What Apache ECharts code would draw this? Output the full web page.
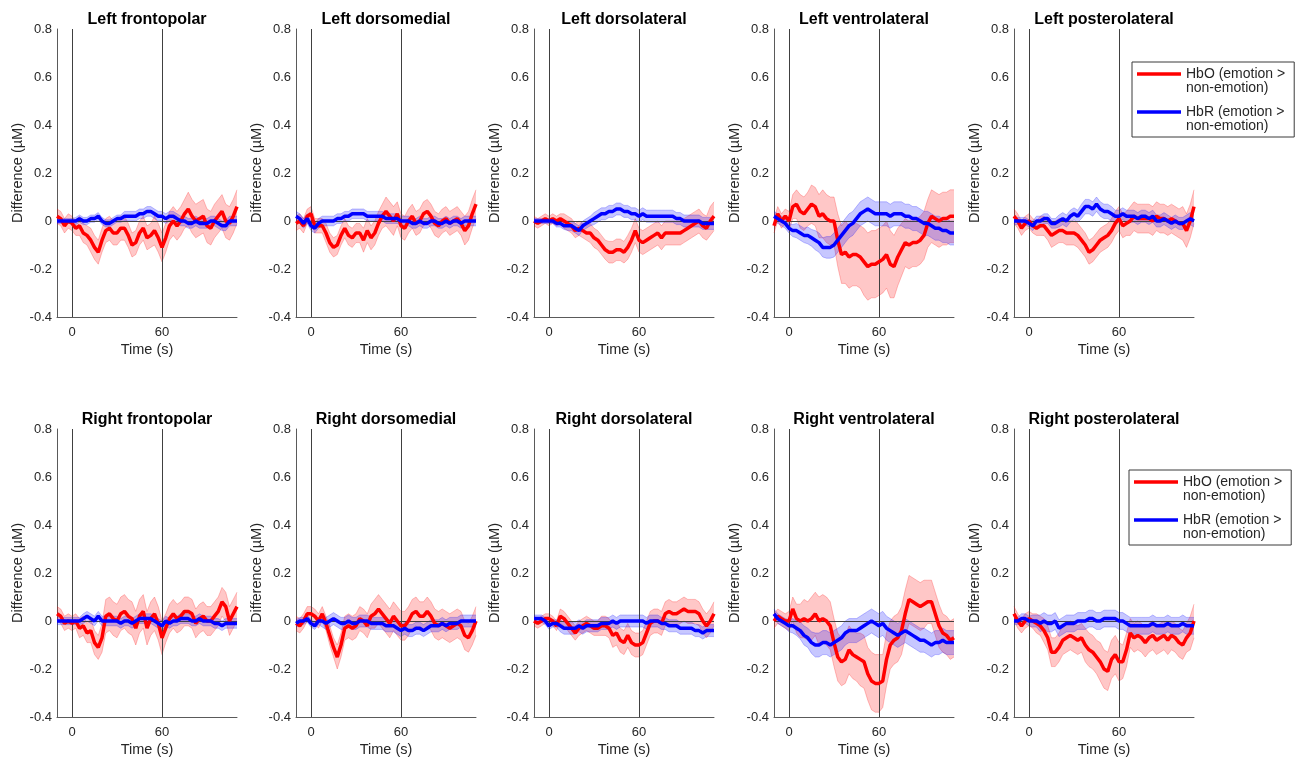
<!DOCTYPE html>
<html>
<head>
<meta charset="utf-8">
<title>HbO / HbR difference by region</title>
<script src="https://cdn.jsdelivr.net/npm/echarts@6/dist/echarts.min.js"></script>
<style>
	html, body { margin: 0; padding: 0; background: #fff; }
	#chart { width: 1298px; height: 758px; }
</style>
</head>
<body>
<div id="chart"></div>
<script>
'use strict'

/*-- sample times (s) --*/
var time = [
	-10, -7.5, -5, -2.5, 0, 2.5, 5,
	7.5, 10, 12.5, 15, 17.5, 20, 22.5,
	25, 27.5, 30, 32.5, 35, 37.5, 40,
	42.5, 45, 47.5, 50, 52.5, 55, 57.5,
	60, 62.5, 65, 67.5, 70, 72.5, 75,
	77.5, 80, 82.5, 85, 87.5, 90, 92.5,
	95, 97.5, 100, 102.5, 105, 107.5, 110
];
var xTickValues = [0, 60];
var markerTimes = [0, 60];
var titles = [
	'Left frontopolar', 'Left dorsomedial', 'Left dorsolateral', 'Left ventrolateral', 'Left posterolateral',
	'Right frontopolar', 'Right dorsomedial', 'Right dorsolateral', 'Right ventrolateral', 'Right posterolateral'
];
var hboName = 'HbO (emotion > non-emotion)';
var hbrName = 'HbR (emotion > non-emotion)';

/*-- Left frontopolar --*/
var lfp_hbo = [
	0.02, 0.01, -0.02, 0.00, -0.01, -0.03, -0.02,
	-0.05, -0.06, -0.08, -0.11, -0.13, -0.08, -0.04,
	-0.03, -0.05, -0.05, -0.03, -0.03, -0.06, -0.10,
	-0.09, -0.05, -0.03, -0.07, -0.06, -0.04, -0.07,
	-0.11, -0.07, -0.02, 0.00, -0.02, 0.00, 0.03,
	0.05, 0.02, 0.00, 0.01, 0.02, -0.02, -0.03,
	0.00, 0.02, 0.04, 0.00, -0.01, 0.02, 0.06
];
var lfp_hbo_se = [
	0.03, 0.03, 0.03, 0.03, 0.03, 0.03, 0.04,
	0.04, 0.04, 0.05, 0.05, 0.05, 0.05, 0.05,
	0.05, 0.05, 0.05, 0.05, 0.05, 0.05, 0.05,
	0.05, 0.05, 0.05, 0.05, 0.05, 0.06, 0.06,
	0.06, 0.06, 0.06, 0.06, 0.06, 0.06, 0.06,
	0.07, 0.07, 0.07, 0.07, 0.07, 0.07, 0.07,
	0.07, 0.07, 0.07, 0.07, 0.07, 0.07, 0.07
];
var lfp_hbr = [
	0.00, 0.00, 0.00, 0.00, 0.00, 0.00, 0.01,
	0.00, 0.00, 0.01, 0.01, 0.02, 0.00, -0.01,
	-0.01, 0.00, 0.01, 0.01, 0.02, 0.02, 0.02,
	0.02, 0.03, 0.03, 0.04, 0.04, 0.03, 0.02,
	0.02, 0.01, 0.02, 0.02, 0.01, 0.00, 0.00,
	-0.01, -0.01, 0.00, -0.01, -0.01, -0.01, 0.00,
	0.00, -0.01, -0.02, -0.02, 0.00, 0.00, 0.00
];
var lfp_hbr_se = [
	0.01, 0.01, 0.01, 0.01, 0.01, 0.015, 0.015,
	0.015, 0.015, 0.015, 0.015, 0.015, 0.015, 0.015,
	0.015, 0.015, 0.015, 0.015, 0.02, 0.02, 0.02,
	0.02, 0.02, 0.02, 0.02, 0.02, 0.02, 0.02,
	0.02, 0.02, 0.02, 0.02, 0.02, 0.02, 0.02,
	0.02, 0.02, 0.02, 0.02, 0.02, 0.02, 0.02,
	0.02, 0.02, 0.02, 0.02, 0.02, 0.02, 0.02
];

/*-- Left dorsomedial --*/
var ldm_hbo = [
	-0.01, 0.00, -0.02, 0.02, 0.03, -0.02, -0.02,
	-0.02, -0.05, -0.09, -0.11, -0.10, -0.06, -0.03,
	-0.06, -0.07, -0.05, -0.05, -0.08, -0.04, -0.07,
	-0.05, -0.01, 0.02, 0.04, 0.02, 0.00, 0.03,
	-0.02, -0.03, 0.00, 0.02, -0.01, 0.00, 0.03,
	0.04, 0.02, -0.01, -0.02, 0.00, 0.01, -0.01,
	0.00, 0.01, -0.01, -0.04, -0.02, 0.03, 0.07
];
var ldm_hbo_se = [
	0.03, 0.03, 0.03, 0.03, 0.03, 0.03, 0.03,
	0.03, 0.04, 0.04, 0.04, 0.04, 0.04, 0.04,
	0.04, 0.04, 0.04, 0.04, 0.05, 0.05, 0.05,
	0.05, 0.05, 0.05, 0.06, 0.06, 0.06, 0.05,
	0.05, 0.05, 0.05, 0.05, 0.05, 0.05, 0.05,
	0.05, 0.05, 0.05, 0.05, 0.05, 0.05, 0.05,
	0.05, 0.05, 0.05, 0.06, 0.06, 0.06, 0.06
];
var ldm_hbr = [
	0.02, 0.01, -0.01, 0.01, -0.02, -0.03, -0.01,
	0.00, 0.00, 0.00, 0.00, 0.01, 0.01, 0.02,
	0.02, 0.03, 0.03, 0.03, 0.03, 0.02, 0.02,
	0.02, 0.02, 0.02, 0.01, 0.01, 0.01, 0.01,
	0.00, 0.00, 0.00, -0.01, -0.01, 0.00, -0.01,
	-0.01, 0.00, 0.00, -0.01, -0.01, 0.00, -0.01,
	0.00, 0.00, -0.01, 0.00, 0.00, 0.00, 0.00
];
var ldm_hbr_se = [
	0.02, 0.02, 0.02, 0.02, 0.02, 0.02, 0.02,
	0.02, 0.02, 0.02, 0.02, 0.02, 0.02, 0.02,
	0.02, 0.02, 0.02, 0.02, 0.02, 0.02, 0.02,
	0.02, 0.02, 0.02, 0.02, 0.02, 0.02, 0.02,
	0.02, 0.02, 0.02, 0.02, 0.02, 0.02, 0.02,
	0.02, 0.02, 0.02, 0.02, 0.02, 0.02, 0.02,
	0.02, 0.02, 0.02, 0.02, 0.02, 0.02, 0.02
];

/*-- Left dorsolateral --*/
var ldl_hbo = [
	0.00, -0.01, 0.00, 0.01, 0.00, 0.01, 0.00,
	0.01, 0.00, -0.01, -0.02, -0.04, -0.03, -0.04,
	-0.05, -0.05, -0.07, -0.08, -0.10, -0.12, -0.13,
	-0.13, -0.12, -0.12, -0.13, -0.11, -0.08, -0.04,
	-0.08, -0.09, -0.08, -0.07, -0.06, -0.05, -0.07,
	-0.05, -0.05, -0.05, -0.05, -0.05, -0.04, -0.03,
	-0.02, -0.01, 0.00, -0.02, -0.03, 0.00, 0.02
];
var ldl_hbo_se = [
	0.02, 0.02, 0.02, 0.02, 0.02, 0.02, 0.02,
	0.02, 0.03, 0.03, 0.03, 0.03, 0.03, 0.03,
	0.03, 0.04, 0.04, 0.04, 0.04, 0.04, 0.045,
	0.045, 0.045, 0.045, 0.045, 0.05, 0.05, 0.05,
	0.05, 0.05, 0.05, 0.05, 0.05, 0.05, 0.05,
	0.05, 0.05, 0.05, 0.05, 0.05, 0.05, 0.05,
	0.05, 0.05, 0.05, 0.05, 0.05, 0.06, 0.06
];
var ldl_hbr = [
	0.00, 0.00, 0.00, 0.00, 0.00, 0.00, -0.01,
	-0.01, -0.02, -0.02, -0.02, -0.03, -0.04, -0.02,
	-0.01, 0.00, 0.01, 0.02, 0.03, 0.03, 0.04,
	0.04, 0.05, 0.05, 0.04, 0.04, 0.03, 0.03,
	0.02, 0.03, 0.02, 0.02, 0.02, 0.02, 0.02,
	0.02, 0.02, 0.02, 0.01, 0.01, 0.00, 0.00,
	0.00, 0.00, 0.00, -0.01, -0.01, -0.01, -0.01
];
var ldl_hbr_se = [
	0.01, 0.01, 0.01, 0.01, 0.01, 0.01, 0.015,
	0.015, 0.015, 0.02, 0.02, 0.02, 0.02, 0.02,
	0.02, 0.02, 0.025, 0.025, 0.025, 0.025, 0.025,
	0.025, 0.025, 0.025, 0.025, 0.025, 0.025, 0.025,
	0.025, 0.025, 0.025, 0.025, 0.025, 0.025, 0.025,
	0.025, 0.025, 0.025, 0.025, 0.025, 0.025, 0.025,
	0.025, 0.025, 0.025, 0.025, 0.025, 0.025, 0.025
];

/*-- Left ventrolateral --*/
var lvl_hbo = [
	-0.02, 0.03, 0.00, 0.02, 0.00, 0.06, 0.07,
	0.04, 0.03, 0.05, 0.07, 0.06, 0.02, 0.03,
	0.01, 0.00, 0.00, -0.08, -0.14, -0.13, -0.15,
	-0.14, -0.14, -0.15, -0.17, -0.19, -0.18, -0.18,
	-0.17, -0.16, -0.14, -0.18, -0.19, -0.15, -0.12,
	-0.09, -0.10, -0.09, -0.09, -0.08, -0.06, -0.01,
	0.02, 0.01, 0.00, 0.01, 0.01, 0.02, 0.02
];
var lvl_hbo_se = [
	0.03, 0.03, 0.03, 0.03, 0.04, 0.05, 0.06,
	0.07, 0.07, 0.07, 0.08, 0.08, 0.09, 0.10,
	0.10, 0.10, 0.10, 0.11, 0.12, 0.13, 0.13,
	0.13, 0.13, 0.13, 0.14, 0.14, 0.14, 0.14,
	0.14, 0.14, 0.14, 0.14, 0.13, 0.12, 0.11,
	0.10, 0.10, 0.10, 0.10, 0.10, 0.10, 0.10,
	0.11, 0.11, 0.11, 0.11, 0.11, 0.11, 0.11
];
var lvl_hbr = [
	0.02, 0.01, 0.00, -0.01, -0.03, -0.04, -0.04,
	-0.05, -0.06, -0.06, -0.07, -0.08, -0.09, -0.11,
	-0.11, -0.11, -0.10, -0.08, -0.06, -0.04, -0.02,
	-0.01, 0.01, 0.03, 0.04, 0.05, 0.04, 0.03,
	0.03, 0.03, 0.03, 0.02, 0.03, 0.03, 0.03,
	0.02, 0.02, 0.01, 0.01, 0.00, -0.01, -0.01,
	-0.02, -0.03, -0.03, -0.04, -0.04, -0.05, -0.05
];
var lvl_hbr_se = [
	0.02, 0.02, 0.02, 0.02, 0.02, 0.025, 0.03,
	0.03, 0.03, 0.035, 0.035, 0.04, 0.04, 0.04,
	0.045, 0.045, 0.05, 0.05, 0.05, 0.05, 0.05,
	0.05, 0.05, 0.05, 0.05, 0.05, 0.05, 0.05,
	0.05, 0.05, 0.05, 0.05, 0.05, 0.05, 0.05,
	0.05, 0.05, 0.05, 0.05, 0.05, 0.05, 0.05,
	0.05, 0.05, 0.05, 0.05, 0.05, 0.05, 0.05
];

/*-- Left posterolateral --*/
var lpl_hbo = [
	0.02, 0.00, -0.03, -0.01, 0.00, -0.02, -0.03,
	-0.02, -0.02, -0.04, -0.06, -0.05, -0.04, -0.04,
	-0.05, -0.05, -0.05, -0.06, -0.08, -0.10, -0.13,
	-0.12, -0.10, -0.08, -0.07, -0.06, -0.04, -0.01,
	0.01, -0.02, -0.01, 0.00, 0.02, 0.01, 0.01,
	0.01, 0.01, 0.00, 0.02, 0.01, 0.01, 0.00,
	0.01, 0.00, -0.01, -0.01, -0.04, 0.00, 0.06
];
var lpl_hbo_se = [
	0.03, 0.03, 0.03, 0.03, 0.03, 0.03, 0.03,
	0.04, 0.04, 0.04, 0.05, 0.05, 0.05, 0.05,
	0.05, 0.05, 0.05, 0.05, 0.05, 0.05, 0.05,
	0.05, 0.05, 0.05, 0.05, 0.05, 0.05, 0.05,
	0.05, 0.05, 0.05, 0.06, 0.06, 0.06, 0.06,
	0.06, 0.06, 0.06, 0.06, 0.06, 0.06, 0.06,
	0.06, 0.06, 0.06, 0.07, 0.07, 0.07, 0.07
];
var lpl_hbr = [
	0.00, 0.00, 0.00, 0.00, -0.01, -0.02, 0.00,
	0.00, 0.01, 0.01, -0.01, -0.01, 0.00, 0.01,
	0.00, 0.02, 0.03, 0.02, 0.04, 0.06, 0.06,
	0.05, 0.07, 0.05, 0.04, 0.04, 0.03, 0.02,
	0.02, 0.03, 0.02, 0.02, 0.02, 0.01, 0.02,
	0.02, 0.01, 0.02, 0.00, 0.00, 0.01, 0.00,
	-0.01, 0.00, -0.01, -0.01, 0.00, 0.01, 0.00
];
var lpl_hbr_se = [
	0.015, 0.015, 0.015, 0.015, 0.015, 0.02, 0.02,
	0.02, 0.02, 0.02, 0.02, 0.02, 0.025, 0.025,
	0.025, 0.025, 0.025, 0.025, 0.03, 0.03, 0.03,
	0.03, 0.03, 0.03, 0.03, 0.03, 0.03, 0.025,
	0.025, 0.025, 0.025, 0.025, 0.025, 0.025, 0.025,
	0.025, 0.025, 0.025, 0.025, 0.025, 0.025, 0.025,
	0.025, 0.025, 0.025, 0.025, 0.025, 0.025, 0.025
];

/*-- Right frontopolar --*/
var rfp_hbo = [
	0.03, 0.02, -0.01, 0.00, -0.01, 0.00, -0.03,
	-0.02, -0.05, -0.04, -0.09, -0.11, -0.07, 0.02,
	0.03, 0.01, 0.00, 0.03, 0.04, 0.02, 0.01,
	-0.03, 0.02, 0.04, -0.03, 0.01, 0.03, -0.01,
	-0.07, -0.03, 0.01, 0.03, 0.01, 0.02, 0.04,
	0.04, 0.03, -0.01, 0.01, 0.02, 0.00, 0.00,
	0.02, 0.04, 0.08, 0.06, 0.00, 0.03, 0.06
];
var rfp_hbo_se = [
	0.03, 0.03, 0.03, 0.03, 0.03, 0.03, 0.04,
	0.04, 0.04, 0.05, 0.05, 0.05, 0.06, 0.07,
	0.07, 0.07, 0.07, 0.07, 0.07, 0.07, 0.07,
	0.07, 0.07, 0.07, 0.07, 0.07, 0.07, 0.07,
	0.07, 0.06, 0.06, 0.06, 0.06, 0.06, 0.06,
	0.06, 0.06, 0.06, 0.06, 0.06, 0.06, 0.06,
	0.06, 0.06, 0.06, 0.06, 0.06, 0.06, 0.06
];
var rfp_hbr = [
	0.00, 0.00, 0.00, 0.00, 0.00, 0.00, 0.00,
	0.01, 0.02, 0.01, 0.00, 0.02, 0.00, 0.00,
	0.00, 0.00, 0.00, -0.01, 0.00, 0.00, -0.01,
	0.00, 0.01, 0.01, 0.01, 0.01, 0.00, -0.01,
	-0.02, 0.00, -0.01, 0.00, 0.00, 0.01, 0.01,
	0.01, 0.00, 0.00, 0.01, 0.00, 0.00, 0.00,
	-0.01, -0.01, -0.02, -0.01, -0.01, -0.01, -0.01
];
var rfp_hbr_se = [
	0.015, 0.015, 0.015, 0.015, 0.015, 0.015, 0.015,
	0.02, 0.02, 0.02, 0.02, 0.02, 0.02, 0.02,
	0.02, 0.02, 0.02, 0.02, 0.02, 0.02, 0.02,
	0.02, 0.02, 0.02, 0.02, 0.02, 0.02, 0.02,
	0.02, 0.02, 0.02, 0.02, 0.02, 0.02, 0.02,
	0.02, 0.02, 0.02, 0.02, 0.02, 0.02, 0.02,
	0.02, 0.02, 0.02, 0.02, 0.02, 0.02, 0.02
];

/*-- Right dorsomedial --*/
var rdm_hbo = [
	-0.01, -0.02, 0.00, 0.03, 0.03, 0.02, 0.00,
	0.03, -0.01, -0.06, -0.11, -0.15, -0.10, -0.03,
	-0.02, -0.03, -0.02, 0.01, 0.00, -0.02, 0.02,
	0.03, 0.05, 0.03, 0.01, -0.01, 0.02, 0.00,
	-0.02, -0.02, 0.00, 0.03, 0.04, 0.02, 0.02,
	0.04, 0.02, -0.01, -0.02, -0.01, -0.02, -0.03,
	-0.02, -0.01, -0.02, -0.06, -0.07, -0.04, 0.00
];
var rdm_hbo_se = [
	0.03, 0.03, 0.03, 0.03, 0.03, 0.03, 0.03,
	0.03, 0.03, 0.04, 0.04, 0.05, 0.05, 0.05,
	0.05, 0.05, 0.05, 0.05, 0.05, 0.05, 0.05,
	0.06, 0.06, 0.06, 0.06, 0.06, 0.06, 0.06,
	0.06, 0.06, 0.06, 0.06, 0.06, 0.06, 0.06,
	0.06, 0.06, 0.06, 0.06, 0.06, 0.06, 0.06,
	0.06, 0.06, 0.06, 0.06, 0.06, 0.06, 0.06
];
var rdm_hbr = [
	-0.01, 0.00, 0.00, 0.01, -0.01, -0.02, 0.00,
	0.00, -0.01, 0.00, 0.01, 0.00, -0.01, -0.01,
	0.00, -0.01, -0.01, 0.00, 0.00, 0.00, -0.01,
	-0.01, -0.01, -0.01, -0.02, -0.02, -0.02, -0.03,
	-0.04, -0.03, -0.04, -0.04, -0.03, -0.03, -0.04,
	-0.03, -0.02, -0.02, -0.02, -0.01, -0.02, -0.01,
	-0.01, -0.01, 0.00, 0.00, 0.00, 0.00, 0.00
];
var rdm_hbr_se = [
	0.015, 0.015, 0.015, 0.015, 0.015, 0.015, 0.015,
	0.025, 0.025, 0.025, 0.025, 0.025, 0.025, 0.025,
	0.025, 0.025, 0.025, 0.025, 0.025, 0.025, 0.025,
	0.025, 0.025, 0.025, 0.025, 0.025, 0.025, 0.025,
	0.025, 0.025, 0.025, 0.025, 0.025, 0.025, 0.025,
	0.025, 0.025, 0.025, 0.025, 0.025, 0.025, 0.025,
	0.025, 0.025, 0.025, 0.025, 0.025, 0.025, 0.025
];

/*-- Right dorsolateral --*/
var rdl_hbo = [
	0.00, -0.01, 0.00, 0.01, 0.01, 0.00, -0.02,
	0.02, 0.01, -0.01, -0.03, -0.05, -0.03, -0.02,
	-0.01, -0.02, -0.03, -0.03, -0.02, -0.02, -0.03,
	-0.06, -0.05, -0.08, -0.09, -0.06, -0.09, -0.10,
	-0.10, -0.09, -0.05, -0.01, 0.00, 0.00, -0.01,
	0.03, 0.04, 0.03, 0.03, 0.04, 0.05, 0.04,
	0.04, 0.04, 0.03, 0.00, -0.02, 0.00, 0.03
];
var rdl_hbo_se = [
	0.02, 0.02, 0.02, 0.02, 0.02, 0.02, 0.02,
	0.03, 0.03, 0.03, 0.03, 0.03, 0.03, 0.03,
	0.03, 0.03, 0.03, 0.03, 0.04, 0.04, 0.04,
	0.05, 0.05, 0.05, 0.05, 0.05, 0.05, 0.05,
	0.05, 0.05, 0.05, 0.05, 0.05, 0.05, 0.05,
	0.05, 0.05, 0.05, 0.05, 0.05, 0.05, 0.05,
	0.05, 0.05, 0.05, 0.05, 0.05, 0.05, 0.05
];
var rdl_hbr = [
	0.01, 0.01, 0.01, 0.00, -0.02, -0.01, -0.01,
	-0.02, -0.03, -0.03, -0.03, -0.03, -0.02, -0.03,
	-0.02, -0.02, -0.02, -0.02, -0.01, -0.01, -0.01,
	0.00, -0.01, 0.00, 0.00, 0.00, 0.00, 0.00,
	0.00, 0.00, -0.01, 0.00, 0.00, 0.00, -0.01,
	-0.01, -0.02, -0.02, -0.02, -0.03, -0.03, -0.03,
	-0.03, -0.04, -0.04, -0.05, -0.04, -0.04, -0.04
];
var rdl_hbr_se = [
	0.015, 0.015, 0.015, 0.015, 0.015, 0.015, 0.015,
	0.025, 0.025, 0.025, 0.025, 0.025, 0.025, 0.025,
	0.025, 0.025, 0.025, 0.025, 0.025, 0.025, 0.025,
	0.025, 0.025, 0.025, 0.025, 0.025, 0.025, 0.025,
	0.025, 0.025, 0.025, 0.025, 0.025, 0.025, 0.025,
	0.025, 0.025, 0.025, 0.025, 0.025, 0.025, 0.025,
	0.025, 0.025, 0.025, 0.025, 0.025, 0.025, 0.025
];

/*-- Right ventrolateral --*/
var rvl_hbo = [
	0.00, 0.02, 0.01, 0.00, 0.00, 0.05, 0.01,
	0.00, 0.01, 0.00, 0.01, 0.03, 0.00, 0.01,
	0.00, -0.02, -0.09, -0.15, -0.17, -0.16, -0.12,
	-0.14, -0.15, -0.16, -0.17, -0.22, -0.25, -0.26,
	-0.26, -0.25, -0.16, -0.10, -0.08, -0.07, -0.04,
	0.03, 0.09, 0.08, 0.07, 0.06, 0.07, 0.08,
	0.08, 0.03, -0.02, -0.05, -0.06, -0.08, -0.07
];
var rvl_hbo_se = [
	0.03, 0.03, 0.03, 0.03, 0.04, 0.05, 0.06,
	0.07, 0.08, 0.08, 0.09, 0.09, 0.10, 0.10,
	0.10, 0.10, 0.10, 0.10, 0.10, 0.10, 0.10,
	0.10, 0.10, 0.11, 0.11, 0.11, 0.12, 0.12,
	0.12, 0.11, 0.11, 0.10, 0.10, 0.10, 0.10,
	0.10, 0.10, 0.10, 0.10, 0.10, 0.10, 0.09,
	0.09, 0.09, 0.09, 0.08, 0.08, 0.08, 0.08
];
var rvl_hbr = [
	0.03, 0.01, 0.00, -0.01, -0.02, -0.02, -0.03,
	-0.04, -0.06, -0.07, -0.09, -0.10, -0.10, -0.09,
	-0.09, -0.10, -0.09, -0.08, -0.07, -0.05, -0.04,
	-0.04, -0.04, -0.03, -0.02, -0.01, 0.00, -0.01,
	-0.02, -0.01, -0.03, -0.04, -0.05, -0.06, -0.05,
	-0.04, -0.05, -0.06, -0.07, -0.08, -0.08, -0.09,
	-0.10, -0.09, -0.09, -0.08, -0.09, -0.09, -0.09
];
var rvl_hbr_se = [
	0.02, 0.02, 0.02, 0.02, 0.025, 0.03, 0.03,
	0.035, 0.04, 0.04, 0.045, 0.05, 0.05, 0.05,
	0.05, 0.05, 0.05, 0.05, 0.05, 0.05, 0.05,
	0.05, 0.05, 0.05, 0.05, 0.05, 0.05, 0.05,
	0.05, 0.05, 0.05, 0.05, 0.05, 0.05, 0.05,
	0.05, 0.05, 0.05, 0.05, 0.05, 0.05, 0.05,
	0.05, 0.05, 0.05, 0.05, 0.05, 0.05, 0.05
];

/*-- Right posterolateral --*/
var rpl_hbo = [
	0.03, 0.00, -0.02, 0.00, 0.01, 0.00, -0.01,
	-0.02, -0.04, -0.07, -0.13, -0.13, -0.11, -0.08,
	-0.07, -0.06, -0.07, -0.08, -0.07, -0.10, -0.12,
	-0.13, -0.15, -0.17, -0.20, -0.21, -0.16, -0.14,
	-0.17, -0.17, -0.12, -0.05, -0.07, -0.06, -0.07,
	-0.09, -0.07, -0.06, -0.08, -0.07, -0.06, -0.08,
	-0.06, -0.07, -0.09, -0.10, -0.07, -0.05, 0.00
];
var rpl_hbo_se = [
	0.03, 0.03, 0.03, 0.03, 0.03, 0.03, 0.04,
	0.04, 0.05, 0.05, 0.06, 0.06, 0.06, 0.06,
	0.06, 0.06, 0.06, 0.06, 0.06, 0.07, 0.07,
	0.07, 0.07, 0.08, 0.08, 0.08, 0.08, 0.08,
	0.08, 0.07, 0.07, 0.06, 0.06, 0.06, 0.06,
	0.06, 0.06, 0.06, 0.06, 0.06, 0.06, 0.06,
	0.06, 0.06, 0.06, 0.06, 0.06, 0.07, 0.07
];
var rpl_hbr = [
	0.00, 0.00, 0.01, 0.01, 0.00, 0.00, 0.00,
	-0.01, 0.00, -0.01, -0.01, 0.00, -0.03, -0.02,
	-0.01, -0.01, -0.01, 0.00, 0.00, 0.00, 0.01,
	0.01, 0.00, 0.00, 0.01, 0.01, 0.01, 0.01,
	0.00, 0.00, -0.01, -0.02, -0.02, -0.02, -0.02,
	-0.02, -0.02, -0.01, -0.02, -0.02, -0.02, -0.01,
	-0.02, -0.02, -0.02, -0.01, -0.02, -0.02, -0.02
];
var rpl_hbr_se = [
	0.015, 0.015, 0.02, 0.02, 0.02, 0.025, 0.025,
	0.035, 0.035, 0.035, 0.035, 0.035, 0.035, 0.035,
	0.035, 0.035, 0.035, 0.035, 0.035, 0.035, 0.035,
	0.035, 0.035, 0.035, 0.035, 0.035, 0.035, 0.035,
	0.035, 0.035, 0.035, 0.035, 0.035, 0.035, 0.035,
	0.035, 0.035, 0.035, 0.035, 0.035, 0.035, 0.035,
	0.035, 0.035, 0.035, 0.035, 0.035, 0.035, 0.035
];

var panels = [
	[lfp_hbo, lfp_hbo_se, lfp_hbr, lfp_hbr_se],
	[ldm_hbo, ldm_hbo_se, ldm_hbr, ldm_hbr_se],
	[ldl_hbo, ldl_hbo_se, ldl_hbr, ldl_hbr_se],
	[lvl_hbo, lvl_hbo_se, lvl_hbr, lvl_hbr_se],
	[lpl_hbo, lpl_hbo_se, lpl_hbr, lpl_hbr_se],
	[rfp_hbo, rfp_hbo_se, rfp_hbr, rfp_hbr_se],
	[rdm_hbo, rdm_hbo_se, rdm_hbr, rdm_hbr_se],
	[rdl_hbo, rdl_hbo_se, rdl_hbr, rdl_hbr_se],
	[rvl_hbo, rvl_hbo_se, rvl_hbr, rvl_hbr_se],
	[rpl_hbo, rpl_hbo_se, rpl_hbr, rpl_hbr_se]
];

/*-- layout --*/
var colLeft = [57, 296, 534, 774, 1014];
var rowTop = [29, 429];
var plotW = 180, plotH = 288;
var textColor = '#262626';
var axisColor = '#5a5a5a';
var font = '"Liberation Sans", Arial, Helvetica, sans-serif';

var grids = [], xAxes = [], yAxes = [], titleList = [], series = [];

// shaded band (mean +/- se) drawn as one polygon through the axis scales
function bandSeries(idx, mean, se, fill, edge, key) {
	var rows = time.map(function(t, i) { return [t, mean[i] - se[i], mean[i] + se[i]]; });
	return {
		name: key + ' band ' + idx,
		type: 'custom',
		xAxisIndex: idx,
		yAxisIndex: idx,
		silent: true,
		z: 2,
		data: rows,
		encode: { x: 0, y: [1, 2] },
		renderItem: function(params, api) {
			if (params.dataIndex !== 0) return;
			var upper = rows.map(function(r) { return api.coord([r[0], r[2]]); });
			var lower = rows.map(function(r) { return api.coord([r[0], r[1]]); }).reverse();
			return {
				type: 'group',
				children: [
					{ type: 'polygon', shape: { points: upper.concat(lower) }, style: { fill: fill } },
					{ type: 'polyline', shape: { points: upper }, style: { fill: null, stroke: edge, lineWidth: 0.8 } },
					{ type: 'polyline', shape: { points: lower }, style: { fill: null, stroke: edge, lineWidth: 0.8 } }
				]
			};
		}
	};
}

function meanSeries(idx, name, mean, color) {
	return {
		name: name,
		type: 'line',
		xAxisIndex: idx,
		yAxisIndex: idx,
		data: time.map(function(t, i) { return [t, mean[i]]; }),
		symbol: 'none',
		z: 4,
		lineStyle: { width: 3.5, color: color },
		itemStyle: { color: color }
	};
}

titles.forEach(function(title, i) {
	var left = colLeft[i % 5];
	var top = rowTop[Math.floor(i / 5)];
	grids.push({ left: left, top: top, width: plotW, height: plotH, containLabel: false });
	xAxes.push({
		gridIndex: i,
		type: 'value',
		min: -10,
		max: 110,
		splitLine: { show: false },
		axisLine: { onZero: false, lineStyle: { color: axisColor, width: 1 } },
		axisTick: { show: false, customValues: xTickValues },
		axisLabel: { customValues: xTickValues, color: textColor, fontSize: 13, margin: 9, fontFamily: font },
		name: 'Time (s)',
		nameLocation: 'middle',
		nameGap: 25,
		nameTextStyle: { color: textColor, fontSize: 14.5, fontFamily: font }
	});
	yAxes.push({
		gridIndex: i,
		type: 'value',
		min: -0.4,
		max: 0.8,
		interval: 0.2,
		splitLine: { show: false },
		axisLine: { show: true, onZero: false, lineStyle: { color: axisColor, width: 1 } },
		axisTick: { show: false },
		axisLabel: {
			color: textColor,
			fontSize: 13,
			margin: 5,
			fontFamily: font,
			formatter: function(v) { return String(Math.round(v * 10) / 10); }
		},
		name: 'Difference (\u00b5M)',
		nameLocation: 'middle',
		nameGap: 30,
		nameTextStyle: { color: textColor, fontSize: 14.5, fontFamily: font }
	});
	titleList.push({
		text: title,
		left: left + plotW / 2,
		top: top - 17,
		textAlign: 'center',
		padding: 0,
		textStyle: { fontSize: 16, fontWeight: 'bold', color: '#000', fontFamily: font }
	});

	var d = panels[i];
	series.push(bandSeries(i, d[0], d[1], 'rgba(255,0,0,0.22)', 'rgba(255,0,0,0.3)', 'hbo'));
	series.push(bandSeries(i, d[2], d[3], 'rgba(0,0,255,0.22)', 'rgba(0,0,255,0.3)', 'hbr'));

	var red = meanSeries(i, hboName, d[0], '#ff0000');
	red.markLine = {
		silent: true,
		symbol: ['none', 'none'],
		z: 3,
		label: { show: false },
		lineStyle: { color: '#404040', width: 1, type: 'solid' },
		emphasis: { disabled: true },
		data: markerTimes.map(function(t) { return { xAxis: t }; }).concat([{ yAxis: 0 }])
	};
	series.push(red);
	series.push(meanSeries(i, hbrName, d[2], '#0000ff'));
});

// legend text: blank first line so the icon sits on the first text line
function legendAt(left, top) {
	return {
		data: [hboName, hbrName],
		orient: 'vertical',
		left: left,
		top: top,
		icon: 'rect',
		itemWidth: 44,
		itemHeight: 3.5,
		itemGap: -4,
		padding: [-9, 9, 4, 5],
		borderColor: '#3a3a3a',
		borderWidth: 1,
		backgroundColor: '#fff',
		selectedMode: false,
		formatter: function(name) { return ' \n' + name.replace(' non-', '\nnon-'); },
		textStyle: { fontSize: 14, color: textColor, lineHeight: 14, fontFamily: font }
	};
}

var chart = echarts.init(document.getElementById('chart'), null, { renderer: 'canvas' });
chart.setOption({
	animation: false,
	backgroundColor: '#fff',
	textStyle: { fontFamily: font },
	title: titleList,
	legend: [legendAt(1132, 62), legendAt(1129, 470)],
	grid: grids,
	xAxis: xAxes,
	yAxis: yAxes,
	series: series
});
</script>
</body>
</html>
